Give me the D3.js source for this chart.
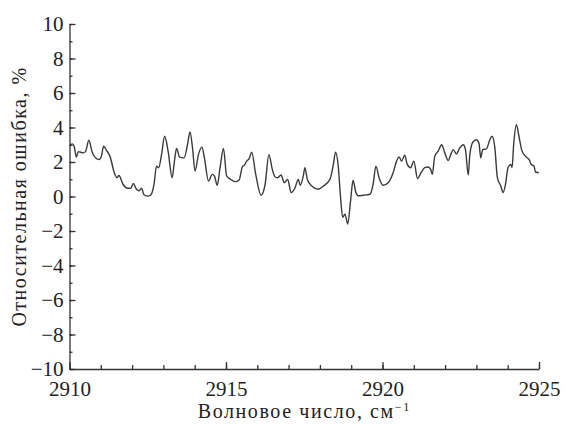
<!DOCTYPE html>
<html>
<head>
<meta charset="utf-8">
<script src="https://cdn.jsdelivr.net/npm/d3@7"></script>
<style>
  body { margin: 0; background: #fff; }
  svg { display: block; }
</style>
</head>
<body>
<svg id="canvas" width="566" height="424"></svg>
<script>
// wavenumber, cm-1
let wavenumber = [
  2910.00, 2910.09, 2910.15, 2910.22, 2910.28, 2910.44, 2910.51, 2910.62, 2910.72, 2910.81,
  2910.94, 2911.02, 2911.09, 2911.18, 2911.29, 2911.45, 2911.52, 2911.58, 2911.71, 2911.85,
  2911.96, 2912.04, 2912.14, 2912.22, 2912.30, 2912.38, 2912.51, 2912.60, 2912.70, 2912.78,
  2912.85, 2912.94, 2913.04, 2913.15, 2913.28, 2913.34, 2913.42, 2913.52, 2913.66, 2913.77,
  2913.85, 2913.93, 2914.01, 2914.12, 2914.23, 2914.31, 2914.44, 2914.56, 2914.63, 2914.72,
  2914.81, 2914.92, 2915.02, 2915.18, 2915.29, 2915.42, 2915.52, 2915.59, 2915.66, 2915.74,
  2915.82, 2915.95, 2916.12, 2916.25, 2916.37, 2916.48, 2916.57, 2916.65, 2916.76, 2916.86,
  2916.97, 2917.08, 2917.20, 2917.31, 2917.37, 2917.47, 2917.52, 2917.60, 2917.74, 2917.95,
  2918.11, 2918.32, 2918.43, 2918.50, 2918.59, 2918.66, 2918.73, 2918.80, 2918.89, 2918.98,
  2919.06, 2919.15, 2919.22, 2919.38, 2919.60, 2919.70, 2919.79, 2919.89, 2920.02, 2920.18,
  2920.34, 2920.45, 2920.53, 2920.61, 2920.71, 2920.79, 2920.90, 2921.00, 2921.12, 2921.23,
  2921.35, 2921.46, 2921.54, 2921.59, 2921.67, 2921.78, 2921.89, 2921.99, 2922.10, 2922.18,
  2922.26, 2922.36, 2922.47, 2922.58, 2922.65, 2922.74, 2922.79, 2922.89, 2923.00, 2923.08,
  2923.14, 2923.20, 2923.32, 2923.43, 2923.50, 2923.59, 2923.67, 2923.78, 2923.85, 2923.93,
  2924.01, 2924.10, 2924.14, 2924.19, 2924.28, 2924.35, 2924.46, 2924.60, 2924.70, 2924.75,
  2924.84, 2924.89, 2924.99
]

// relative error, %
let relError = [
  2.93, 3.05, 2.90, 2.28, 2.60, 2.53, 2.60, 3.26, 2.60, 2.28,
  2.14, 2.34, 2.91, 2.68, 2.34, 1.28, 1.09, 1.22, 0.71, 0.48,
  0.48, 0.76, 0.42, 0.33, 0.48, 0.10, 0.02, 0.10, 0.71, 1.76,
  1.67, 2.43, 3.49, 2.63, 1.09, 1.86, 2.78, 2.28, 2.24, 3.00,
  3.74, 2.82, 1.48, 2.43, 2.86, 2.24, 0.90, 1.28, 1.19, 0.65,
  1.67, 2.78, 1.19, 0.96, 0.86, 0.96, 1.71, 1.82, 2.05, 2.20,
  2.57, 1.28, 0.07, 0.71, 2.43, 1.57, 1.13, 1.09, 1.25, 0.80,
  0.99, 0.23, 0.48, 0.99, 0.65, 1.19, 1.67, 0.99, 0.61, 0.42,
  0.61, 0.99, 1.86, 2.57, 1.67, -0.06, -1.21, -1.02, -1.59, -0.25,
  0.94, 0.23, 0.04, 0.07, 0.13, 0.71, 1.76, 1.09, 0.65, 0.80,
  1.38, 2.05, 2.30, 2.05, 2.40, 1.86, 1.67, 2.05, 1.03, 1.38,
  1.67, 1.71, 1.57, 1.28, 2.34, 2.63, 3.00, 2.53, 2.09, 2.43,
  2.72, 2.47, 2.82, 3.00, 2.72, 1.25, 2.43, 3.16, 3.29, 3.10,
  2.24, 2.72, 2.76, 3.29, 3.49, 2.82, 1.09, 0.61, 0.23, 0.71,
  1.67, 1.86, 1.67, 3.00, 4.16, 3.58, 2.63, 2.28, 2.09, 1.86,
  1.76, 1.42, 1.38
]

let xMajorTicks = [2910, 2915, 2920, 2925]
let yMajorTicks = [-10, -8, -6, -4, -2, 0, 2, 4, 6, 8, 10]

let canvas = d3.select('#canvas')
let serif = "'Liberation Serif', 'Times New Roman', Times, 'DejaVu Serif', serif"

let xScale = d3.scaleLinear().domain([2910, 2925]).range([69.5, 539])
let yScale = d3.scaleLinear().domain([-10, 10]).range([369, 24])

let fmtMinus = d => d < 0 ? '\u2212' + Math.abs(d) : String(d)

// minor ticks (every unit), pointing inward
canvas.append('g')
    .attr('transform', 'translate(0,' + yScale(-10) + ')')
    .call(d3.axisBottom(xScale).tickValues(d3.range(2910, 2926, 1)).tickSize(-4).tickFormat(''))
    .call(g => g.select('.domain').remove())
canvas.append('g')
    .attr('transform', 'translate(' + xScale(2910) + ',0)')
    .call(d3.axisLeft(yScale).tickValues(d3.range(-10, 11, 1)).tickSize(-3).tickFormat(''))
    .call(g => g.select('.domain').remove())

// major ticks + labels
let xAxis = canvas.append('g')
    .attr('transform', 'translate(0,' + yScale(-10) + ')')
    .call(d3.axisBottom(xScale).tickValues(xMajorTicks).tickSize(-7).tickSizeOuter(0).tickFormat(d3.format('d')))
xAxis.attr('font-family', serif).attr('font-size', 21)
xAxis.selectAll('.tick text')
    .attr('y', 12).attr('dy', '0.71em')
    .attr('fill', '#222')

let yAxis = canvas.append('g')
    .attr('transform', 'translate(' + xScale(2910) + ',0)')
    .call(d3.axisLeft(yScale).tickValues(yMajorTicks).tickSize(-6).tickSizeOuter(0).tickFormat(fmtMinus))
yAxis.attr('font-family', serif).attr('font-size', 21)
yAxis.selectAll('.tick text')
    .attr('x', -6)
    .attr('fill', '#222')

canvas.selectAll('.domain, .tick line')
    .attr('stroke', '#333')
    .attr('stroke-width', 1.3)

// the curve
let line = d3.line()
    .x((d, i) => xScale(wavenumber[i]))
    .y(d => yScale(d))
    .curve(d3.curveMonotoneX)

canvas.append('path')
    .datum(relError)
    .attr('d', line)
    .attr('fill', 'none')
    .attr('stroke', '#3a3a3a')
    .attr('stroke-width', 1.4)

// axis titles
let xTitle = canvas.append('text')
    .attr('x', (xScale(2910) + xScale(2925)) / 2)
    .attr('y', 418)
    .attr('text-anchor', 'middle')
    .attr('font-family', serif)
    .attr('font-size', 20)
    .attr('letter-spacing', 1.6)
    .attr('fill', '#222')
    .text('Волновое число, см')
xTitle.append('tspan')
    .attr('dy', -7)
    .attr('font-size', 12)
    .text('\u22121')

canvas.append('text')
    .attr('transform', 'translate(26,' + (yScale(0)) + ') rotate(-90)')
    .attr('text-anchor', 'middle')
    .attr('font-family', serif)
    .attr('font-size', 20)
    .attr('letter-spacing', 1.5)
    .attr('fill', '#222')
    .text('Относительная ошибка, %')
</script>
</body>
</html>
